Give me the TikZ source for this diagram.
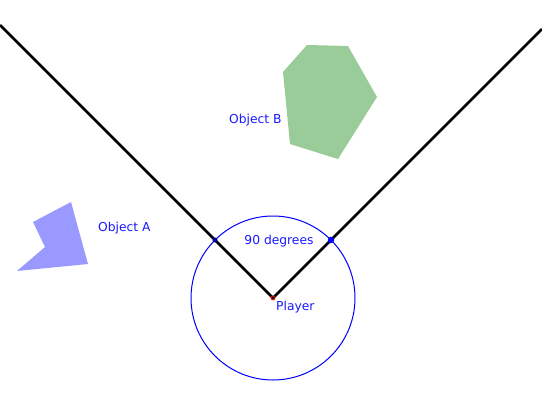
\documentclass[tikz,border=0pt]{standalone}
\usepackage{fontspec}
\setmainfont{DejaVu Sans}
\begin{document}
\begin{tikzpicture}[x=1pt,y=-1pt,
  lbl/.style={text=blue!90!white,font=\fontsize{12.3}{14}\selectfont,inner sep=0pt},
  ray/.style={line width=2.6pt,black},
  objA/.style={fill={rgb,255:red,153;green,153;blue,255}},
  objB/.style={fill={rgb,255:red,153;green,204;blue,153}}]
\useasboundingbox (0,0) rectangle (542,410);
\fill[white] (0,0) rectangle (542,410);
% objects
\fill[objA] (71,202) -- (88,264) -- (17,271) -- (45,247) -- (33,222) -- cycle;
\fill[objB] (307,45) -- (348,46) -- (377,97) -- (338,159) -- (290,144) -- (283,72) -- cycle;
% player and view
\coordinate (P) at (273,298);
\coordinate (L) at (0,25);
\coordinate (R) at (542,29);
\draw[blue,line width=1pt] (P) circle[radius=82];
\draw[ray] (L) -- (P) -- (R);
\node[circle,fill=blue!60!black,inner sep=0pt,minimum size=5pt] (dl) at (215,240) {};
\node[circle,fill=blue,inner sep=0pt,minimum size=6.5pt] (dr) at (331,240) {};
\node[circle,draw=red,line width=0.8pt,inner sep=0pt,minimum size=4pt] (pl) at (P) {};
% labels
\node[lbl,anchor=west] (tp) at (276,307.5) {Player};
\node[lbl] (t90) at (279,241.5) {90 degrees};
\node[lbl,anchor=west] (ta) at (98,228.5) {Object A};
\node[lbl,anchor=west] (tb) at (229,120.5) {Object B};
\end{tikzpicture}
\end{document}
